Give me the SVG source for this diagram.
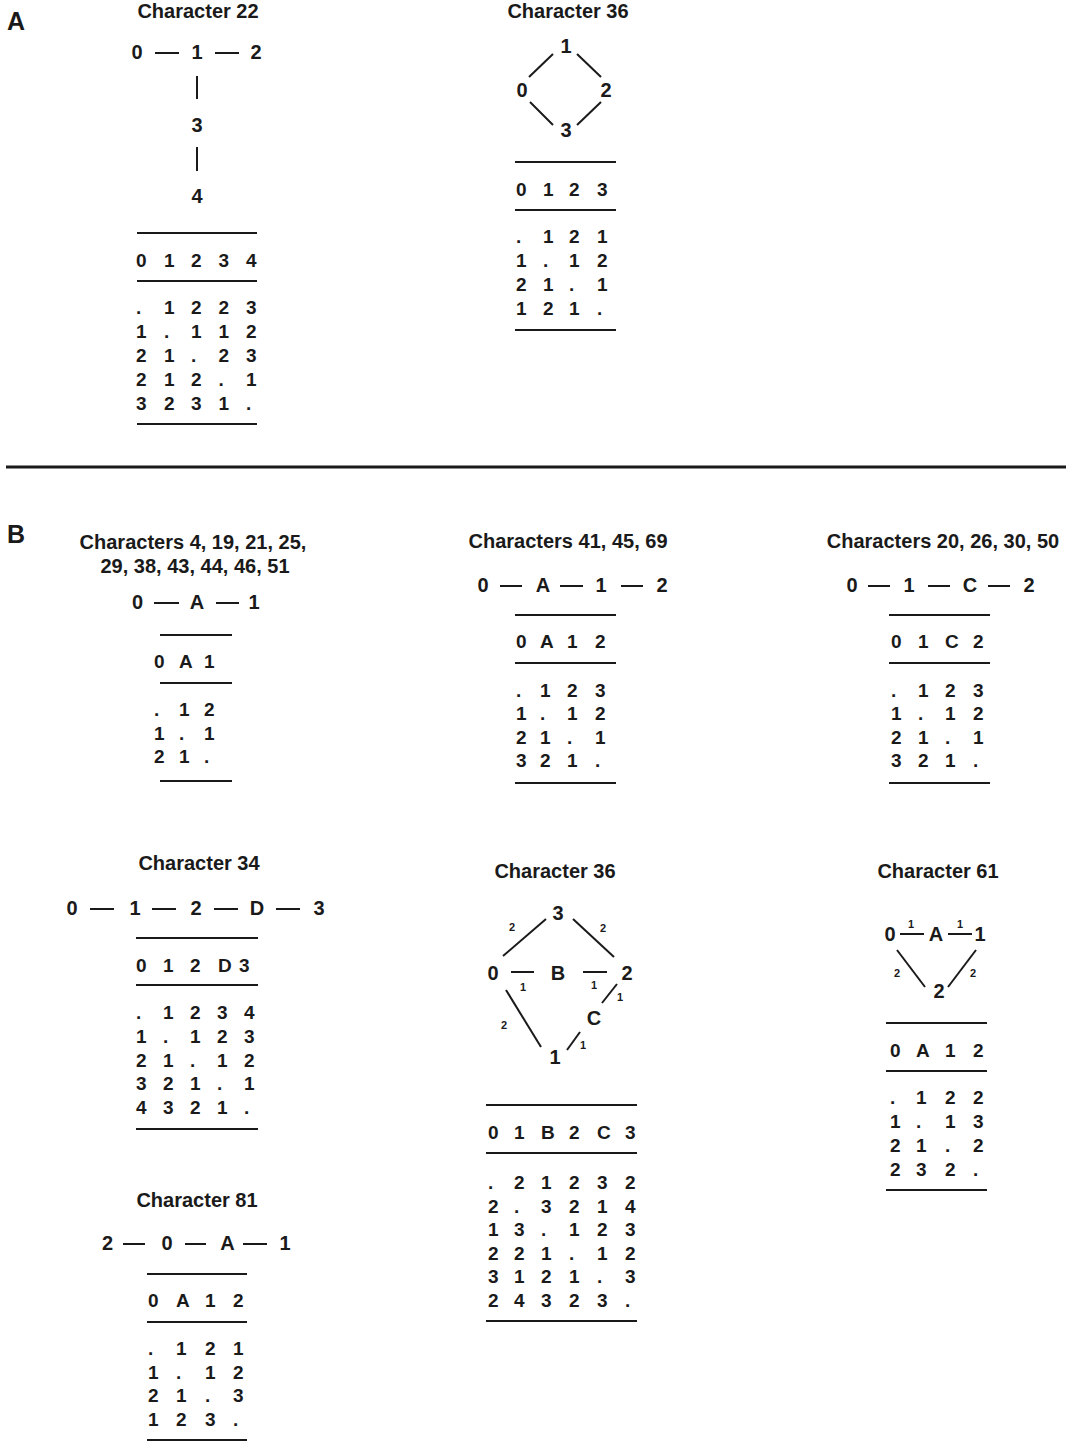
<svg xmlns="http://www.w3.org/2000/svg" width="1066" height="1441" viewBox="0 0 1066 1441">
<style>
text{font-family:"Liberation Sans",Arial,sans-serif;font-weight:bold;fill:#1a1a1a}
.t{font-size:20px;text-anchor:middle}
.p{font-size:25px}
.n{font-size:20px;text-anchor:middle}
.s{font-size:11px;text-anchor:middle}
.r{font-size:19px}
.e line{stroke:#1a1a1a;stroke-width:2}
.h{stroke:#1a1a1a;stroke-width:2}
</style>
<rect width="1066" height="1441" fill="#fff"/>
<text class="p" x="7" y="30">A</text>
<text class="p" x="7" y="543">B</text>
<line x1="6" y1="467" x2="1066" y2="467" stroke="#1a1a1a" stroke-width="3"/>

<g id="connectors" class="e">
<line x1="155" y1="53" x2="179" y2="53"/><line x1="215" y1="53" x2="239" y2="53"/>
<line x1="197" y1="76" x2="197" y2="99"/><line x1="197" y1="147" x2="197" y2="171"/>
<line x1="529" y1="77" x2="553" y2="54"/><line x1="577" y1="54" x2="601" y2="77"/>
<line x1="530" y1="102" x2="553" y2="125"/><line x1="577" y1="125" x2="601" y2="102"/>
<line x1="154" y1="603" x2="179" y2="603"/><line x1="216" y1="603" x2="239" y2="603"/>
<line x1="500" y1="586" x2="522" y2="586"/><line x1="560" y1="586" x2="583" y2="586"/><line x1="621" y1="586" x2="643" y2="586"/>
<line x1="868" y1="586" x2="890" y2="586"/><line x1="928" y1="586" x2="950" y2="586"/><line x1="988" y1="586" x2="1010" y2="586"/>
<line x1="90" y1="909" x2="114" y2="909"/><line x1="152" y1="909" x2="176" y2="909"/><line x1="214" y1="909" x2="238" y2="909"/><line x1="276" y1="909" x2="300" y2="909"/>
<line x1="123" y1="1244" x2="145" y2="1244"/><line x1="185" y1="1244" x2="206" y2="1244"/><line x1="243" y1="1244" x2="267" y2="1244"/>
<line x1="503" y1="956" x2="546" y2="919"/><line x1="573" y1="919" x2="614" y2="957"/>
<line x1="511" y1="972" x2="534" y2="972"/><line x1="583" y1="972" x2="607" y2="972"/>
<line x1="617" y1="984" x2="602" y2="1003"/><line x1="580" y1="1032" x2="567" y2="1050"/>
<line x1="506" y1="990" x2="541" y2="1047"/>
<line x1="900" y1="934" x2="924" y2="934"/><line x1="948" y1="934" x2="972" y2="934"/>
<line x1="897" y1="950" x2="925" y2="987"/><line x1="976" y1="950" x2="948" y2="987"/>
</g>

<g id="char22">
<text class="t" x="198" y="18">Character 22</text>
<text class="n" x="137" y="59">0</text><text class="n" x="197" y="59">1</text><text class="n" x="256" y="59">2</text>
<text class="n" x="197" y="132">3</text><text class="n" x="197" y="203">4</text>
<line class="h" x1="137" y1="233" x2="257" y2="233"/><line class="h" x1="137" y1="281" x2="257" y2="281"/><line class="h" x1="137" y1="424" x2="257" y2="424"/>
<text class="r" x="136 150 164 177.5 191 204.75 218.5 232 246" y="267">0 1 2 3 4</text>
<text class="r" x="136 150 164 177.5 191 204.75 218.5 232 246" y="314">. 1 2 2 3</text>
<text class="r" x="136 150 164 177.5 191 204.75 218.5 232 246" y="338">1 . 1 1 2</text>
<text class="r" x="136 150 164 177.5 191 204.75 218.5 232 246" y="362">2 1 . 2 3</text>
<text class="r" x="136 150 164 177.5 191 204.75 218.5 232 246" y="386">2 1 2 . 1</text>
<text class="r" x="136 150 164 177.5 191 204.75 218.5 232 246" y="410">3 2 3 1 .</text>
</g>

<g id="char36a">
<text class="t" x="568" y="18">Character 36</text>
<text class="n" x="566" y="53">1</text><text class="n" x="522" y="97">0</text><text class="n" x="606" y="97">2</text><text class="n" x="566" y="137">3</text>
<line class="h" x1="515" y1="162" x2="616" y2="162"/><line class="h" x1="515" y1="210" x2="616" y2="210"/><line class="h" x1="515" y1="330" x2="616" y2="330"/>
<text class="r" x="516 529.5 543 556 569 583 597" y="196">0 1 2 3</text>
<text class="r" x="516 529.5 543 556 569 583 597" y="243">. 1 2 1</text>
<text class="r" x="516 529.5 543 556 569 583 597" y="267">1 . 1 2</text>
<text class="r" x="516 529.5 543 556 569 583 597" y="291">2 1 . 1</text>
<text class="r" x="516 529.5 543 556 569 583 597" y="315">1 2 1 .</text>
</g>

<g id="chars4">
<text class="t" x="193" y="549">Characters 4, 19, 21, 25,</text>
<text class="t" x="195" y="573">29, 38, 43, 44, 46, 51</text>
<text class="n" x="137.5" y="609">0</text><text class="n" x="197" y="609">A</text><text class="n" x="254" y="609">1</text>
<line class="h" x1="160" y1="635" x2="232" y2="635"/><line class="h" x1="160" y1="683" x2="232" y2="683"/><line class="h" x1="160" y1="781" x2="232" y2="781"/>
<text class="r" x="154 166.5 179 191.5 204" y="668">0 A 1</text>
<text class="r" x="154 166.5 179 191.5 204" y="716">. 1 2</text>
<text class="r" x="154 166.5 179 191.5 204" y="740">1 . 1</text>
<text class="r" x="154 166.5 179 191.5 204" y="763">2 1 .</text>
</g>

<g id="chars41">
<text class="t" x="568" y="548">Characters 41, 45, 69</text>
<text class="n" x="483" y="592">0</text><text class="n" x="543" y="592">A</text><text class="n" x="601" y="592">1</text><text class="n" x="662" y="592">2</text>
<line class="h" x1="515" y1="615" x2="616" y2="615"/><line class="h" x1="515" y1="663" x2="616" y2="663"/><line class="h" x1="515" y1="783" x2="616" y2="783"/>
<text class="r" x="516 528 540 553.5 567 581 595" y="648">0 A 1 2</text>
<text class="r" x="516 528 540 553.5 567 581 595" y="697">. 1 2 3</text>
<text class="r" x="516 528 540 553.5 567 581 595" y="720">1 . 1 2</text>
<text class="r" x="516 528 540 553.5 567 581 595" y="744">2 1 . 1</text>
<text class="r" x="516 528 540 553.5 567 581 595" y="767">3 2 1 .</text>
</g>

<g id="chars20">
<text class="t" x="943" y="548">Characters 20, 26, 30, 50</text>
<text class="n" x="852" y="592">0</text><text class="n" x="909" y="592">1</text><text class="n" x="970" y="592">C</text><text class="n" x="1029" y="592">2</text>
<line class="h" x1="889" y1="615" x2="990" y2="615"/><line class="h" x1="889" y1="663" x2="990" y2="663"/><line class="h" x1="889" y1="783" x2="990" y2="783"/>
<text class="r" x="891 904.5 918 931.5 945 959 973" y="648">0 1 C 2</text>
<text class="r" x="891 904.5 918 931.5 945 959 973" y="697">. 1 2 3</text>
<text class="r" x="891 904.5 918 931.5 945 959 973" y="720">1 . 1 2</text>
<text class="r" x="891 904.5 918 931.5 945 959 973" y="744">2 1 . 1</text>
<text class="r" x="891 904.5 918 931.5 945 959 973" y="767">3 2 1 .</text>
</g>

<g id="char34">
<text class="t" x="199" y="870">Character 34</text>
<text class="n" x="72" y="915">0</text><text class="n" x="135" y="915">1</text><text class="n" x="196" y="915">2</text><text class="n" x="257" y="915">D</text><text class="n" x="319" y="915">3</text>
<line class="h" x1="136" y1="938" x2="258" y2="938"/><line class="h" x1="136" y1="985" x2="258" y2="985"/><line class="h" x1="136" y1="1129" x2="258" y2="1129"/>
<text class="r" x="136 149.5 163 176.5 190 204 218 228.5 239" y="972">0 1 2 D 3</text>
<text class="r" x="136 149.5 163 176.5 190 203.5 217 230.5 244" y="1019">. 1 2 3 4</text>
<text class="r" x="136 149.5 163 176.5 190 203.5 217 230.5 244" y="1043">1 . 1 2 3</text>
<text class="r" x="136 149.5 163 176.5 190 203.5 217 230.5 244" y="1067">2 1 . 1 2</text>
<text class="r" x="136 149.5 163 176.5 190 203.5 217 230.5 244" y="1090">3 2 1 . 1</text>
<text class="r" x="136 149.5 163 176.5 190 203.5 217 230.5 244" y="1114">4 3 2 1 .</text>
</g>

<g id="char81">
<text class="t" x="197" y="1207">Character 81</text>
<text class="n" x="107.5" y="1250">2</text><text class="n" x="167" y="1250">0</text><text class="n" x="227.5" y="1250">A</text><text class="n" x="285" y="1250">1</text>
<line class="h" x1="147" y1="1274" x2="247" y2="1274"/><line class="h" x1="147" y1="1322" x2="247" y2="1322"/><line class="h" x1="147" y1="1440" x2="247" y2="1440"/>
<text class="r" x="148 162 176 190.5 205 219 233" y="1307">0 A 1 2</text>
<text class="r" x="148 162 176 190.5 205 219 233" y="1355">. 1 2 1</text>
<text class="r" x="148 162 176 190.5 205 219 233" y="1379">1 . 1 2</text>
<text class="r" x="148 162 176 190.5 205 219 233" y="1402">2 1 . 3</text>
<text class="r" x="148 162 176 190.5 205 219 233" y="1426">1 2 3 .</text>
</g>

<g id="char36b">
<text class="t" x="555" y="878">Character 36</text>
<text class="n" x="558" y="920">3</text><text class="n" x="493" y="980">0</text><text class="n" x="558" y="980">B</text><text class="n" x="627" y="980">2</text>
<text class="n" x="594" y="1025">C</text><text class="n" x="555" y="1064">1</text>
<text class="s" x="512" y="931">2</text><text class="s" x="603" y="932">2</text>
<text class="s" x="523" y="991">1</text><text class="s" x="594" y="989">1</text>
<text class="s" x="620" y="1001">1</text><text class="s" x="504" y="1029">2</text><text class="s" x="583" y="1049">1</text>
<line class="h" x1="486" y1="1105" x2="637" y2="1105"/><line class="h" x1="486" y1="1153" x2="637" y2="1153"/><line class="h" x1="486" y1="1321" x2="637" y2="1321"/>
<text class="r" x="488 501 514 527.5 541 555 569 583 597 611 625" y="1139">0 1 B 2 C 3</text>
<text class="r" x="488 501 514 527.5 541 555 569 583 597 611 625" y="1189">. 2 1 2 3 2</text>
<text class="r" x="488 501 514 527.5 541 555 569 583 597 611 625" y="1212.5">2 . 3 2 1 4</text>
<text class="r" x="488 501 514 527.5 541 555 569 583 597 611 625" y="1236">1 3 . 1 2 3</text>
<text class="r" x="488 501 514 527.5 541 555 569 583 597 611 625" y="1259.5">2 2 1 . 1 2</text>
<text class="r" x="488 501 514 527.5 541 555 569 583 597 611 625" y="1283">3 1 2 1 . 3</text>
<text class="r" x="488 501 514 527.5 541 555 569 583 597 611 625" y="1306.5">2 4 3 2 3 .</text>
</g>

<g id="char61">
<text class="t" x="938" y="878">Character 61</text>
<text class="n" x="890" y="941">0</text><text class="n" x="936" y="941">A</text><text class="n" x="980" y="941">1</text><text class="n" x="939" y="998">2</text>
<text class="s" x="911" y="928">1</text><text class="s" x="960" y="928">1</text>
<text class="s" x="897" y="977">2</text><text class="s" x="973" y="977">2</text>
<line class="h" x1="886" y1="1023" x2="987" y2="1023"/><line class="h" x1="886" y1="1071" x2="987" y2="1071"/><line class="h" x1="886" y1="1190" x2="987" y2="1190"/>
<text class="r" x="890 903 916 930.5 945 959 973" y="1057">0 A 1 2</text>
<text class="r" x="890 903 916 930.5 945 959 973" y="1104">. 1 2 2</text>
<text class="r" x="890 903 916 930.5 945 959 973" y="1128">1 . 1 3</text>
<text class="r" x="890 903 916 930.5 945 959 973" y="1152">2 1 . 2</text>
<text class="r" x="890 903 916 930.5 945 959 973" y="1176">2 3 2 .</text>
</g>
</svg>
